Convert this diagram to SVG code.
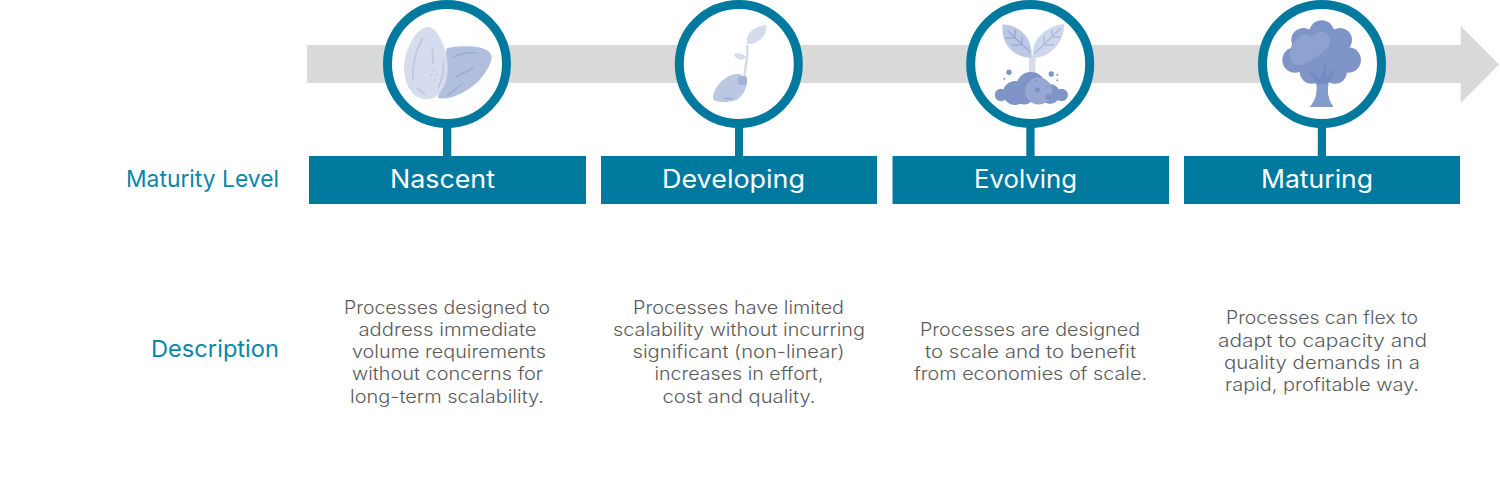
<svg xmlns="http://www.w3.org/2000/svg" width="1500" height="502" viewBox="0 0 1500 502">
<style>
.ring{fill:#fff;stroke:#00799f;stroke-width:9}
.stem,.box{fill:#00799f}
.title{font:400 25px Inter,"Noto Sans",sans-serif;fill:#fff;text-anchor:middle}
.side{font:400 23px Inter,"Noto Sans",sans-serif;fill:#0a86a8;text-anchor:end}
.desc{font:300 18px Inter,"Noto Sans",sans-serif;fill:#5a5a5a;text-anchor:middle}
.l{fill:#d5dcee}.m{fill:#b1bedd}.d{fill:#7f95c8}
.ls{fill:none;stroke:#bcc7e2;stroke-width:1.6;stroke-linecap:round}
.ms{fill:none;stroke:#9cacd5;stroke-width:1.6;stroke-linecap:round}
</style>
<rect width="1500" height="502" fill="#fff"/>
<g id="timeline"><path d="M307 45H1460.700V26L1499 64.500L1460.700 103V83H307Z" fill="#d9d9d9"/></g>
<g id="connectors">
<rect class="stem" x="443" y="120" width="8.300" height="37"/>
<rect class="stem" x="735" y="120" width="8" height="37"/>
<rect class="stem" x="1026.300" y="120" width="8.300" height="37"/>
<rect class="stem" x="1317.800" y="120" width="8.200" height="37"/>
</g>
<g id="side-labels">
<text class="side" x="279" y="187" textLength="153" lengthAdjust="spacingAndGlyphs">Maturity Level</text>
<text class="side" x="279" y="357" textLength="128" lengthAdjust="spacingAndGlyphs">Description</text>
</g>
<g id="nascent">
<circle class="ring" cx="447" cy="64" r="59.500"/>
<path class="m" d="M446.700 48.300C456 46 476 45 484 49C490 51 492 55 491.700 58.300C490 68 480 82 470 88C460 95 448 100 438 98Z"/>
<path class="ms" d="M453 57C462 53 470 52 477 53M456 77L473 68M448 95L463 83"/>
<path class="l" d="M428 27C436 27 444 42 447 58C450 78 443 98 428 99C412 100 404 85 404 66C405 48 417 27 428 27Z"/>
<path class="ls" d="M422.700 38C416 50 412 65 413 80M417 88L425 94M432.300 48L433 63M438 88C442 80 444 70 443 62"/>
<g fill="#bcc7e2"><circle cx="434" cy="71" r="1"/><circle cx="431" cy="75" r="1"/><circle cx="435" cy="80" r="1"/><circle cx="437" cy="74" r="1"/></g>
<rect class="box" x="309" y="156" width="277" height="48"/>
<text class="title" x="442.500" y="187.500" textLength="105" lengthAdjust="spacingAndGlyphs">Nascent</text>
<g class="desc">
<text x="447" y="313.500" textLength="206" lengthAdjust="spacingAndGlyphs">Processes designed to</text>
<text x="447.500" y="335.500" textLength="178" lengthAdjust="spacingAndGlyphs">address immediate</text>
<text x="449" y="358" textLength="194" lengthAdjust="spacingAndGlyphs">volume requirements</text>
<text x="447.500" y="380" textLength="191" lengthAdjust="spacingAndGlyphs">without concerns for</text>
<text x="447" y="402.500" textLength="194" lengthAdjust="spacingAndGlyphs">long-term scalability.</text>
</g>
</g>
<g id="developing">
<circle class="ring" cx="738.800" cy="64" r="59.500"/>
<path d="M745 78C743 70 749 62 747 45" fill="none" stroke="#d5dcee" stroke-width="2.500"/>
<path class="l" d="M747 44C745 35 752 27 766 25C768 34 760 44 747 44Z"/>
<path class="l" d="M734 54C738 52 744 54 746 57C743 61 736 61 734 54Z"/>
<path d="M713 98C713 88 724 76 735 74C741 73 747 78 747 83C746 90 742 97 736 100C728 103 713 103 713 98Z" fill="#bcc7e2"/>
<rect x="738" y="76" width="9" height="9" rx="2.500" fill="#a3b2d6"/>
<path d="M724 98.500H733" stroke="#97a8d2" stroke-width="1.500"/>
<rect class="box" x="601" y="156" width="276" height="48"/>
<text class="title" x="733.500" y="187.500" textLength="143" lengthAdjust="spacingAndGlyphs">Developing</text>
<g class="desc">
<text x="738.500" y="313.500" textLength="211" lengthAdjust="spacingAndGlyphs">Processes have limited</text>
<text x="739" y="335.500" textLength="252" lengthAdjust="spacingAndGlyphs">scalability without incurring</text>
<text x="738.500" y="358" textLength="212" lengthAdjust="spacingAndGlyphs">significant (non-linear)</text>
<text x="739" y="380" textLength="169" lengthAdjust="spacingAndGlyphs">increases in effort,</text>
<text x="739" y="402.500" textLength="153" lengthAdjust="spacingAndGlyphs">cost and quality.</text>
</g>
</g>
<g id="evolving">
<circle class="ring" cx="1030.200" cy="64" r="59.500"/>
<rect class="l" x="1029" y="56" width="6.500" height="19"/>
<path d="M1002.700 24.300C1018 25 1033 36 1031.700 57.700C1016 58 1000 46 1002.700 24.300Z" fill="#bcc8e4"/>
<path d="M1064 24C1065 40 1052 58 1033 57.700C1030 40 1046 26 1064 24Z" fill="#ced7ec"/>
<path class="ms" d="M1008 31L1030 52M1015 38V30M1015 38H1006M1022 45V37M1022 45H1012"/>
<path class="ms" stroke-opacity=".65" d="M1060 29L1035 53M1052 37V30M1052 37H1060M1044 45V37M1044 45H1053"/>
<g class="d"><circle cx="1001" cy="95" r="6.200"/><circle cx="1061.700" cy="95" r="6.200"/><circle cx="1015" cy="93" r="12"/><circle cx="1050" cy="94" r="10"/><circle cx="1031" cy="87" r="15"/><circle cx="1024" cy="94" r="10.500"/><circle cx="1009" cy="72.300" r="2.700"/><circle cx="1051.300" cy="74" r="2.700"/><circle cx="1004.300" cy="78.700" r="1"/><circle cx="1057.300" cy="75" r="1"/><circle cx="1057.300" cy="80.300" r="1"/></g>
<circle cx="1038.500" cy="91" r="13.500" fill="#96a7d2"/>
<g fill="#7a90c4"><circle cx="1037.300" cy="90" r="2.600"/><circle cx="1048.300" cy="96.700" r="2.600"/><circle cx="1046.700" cy="86.700" r="1"/><circle cx="1035.700" cy="81" r=".9"/></g>
<rect class="box" x="892.500" y="156" width="276.500" height="48"/>
<text class="title" x="1025.500" y="187.500" textLength="103" lengthAdjust="spacingAndGlyphs">Evolving</text>
<g class="desc">
<text x="1030" y="335.500" textLength="220" lengthAdjust="spacingAndGlyphs">Processes are designed</text>
<text x="1030.500" y="358" textLength="211" lengthAdjust="spacingAndGlyphs">to scale and to benefit</text>
<text x="1030.500" y="380" textLength="233" lengthAdjust="spacingAndGlyphs">from economies of scale.</text>
</g>
</g>
<g id="maturing">
<circle class="ring" cx="1322" cy="64" r="59.500"/>
<g class="d"><circle cx="1321.700" cy="32.500" r="12.300"/><circle cx="1303.300" cy="40" r="12"/><circle cx="1340" cy="40" r="12"/><circle cx="1295" cy="60" r="12.700"/><circle cx="1348.300" cy="60" r="12.700"/><circle cx="1311.700" cy="71.700" r="12"/><circle cx="1335" cy="71.700" r="12"/><circle cx="1321.700" cy="53.300" r="27"/></g>
<path d="M1290 58C1289 49 1292 43 1296 40C1300 35 1307 33 1312 37C1316 31 1325 30 1328 35C1332 40 1330 46 1325 50C1318 56 1312 60 1306 63C1300 67 1291 66 1290 58Z" fill="#8ea1cf"/>
<path d="M1310 106.700C1316 100 1318 92 1317 85L1309 72L1312 70L1320 79L1324.500 63.500H1326.500L1326 79L1332 70L1334.500 72.500L1328 84C1327 92 1328 100 1333.300 106.700Z" fill="#758cc3"/>
<path d="M1310 106.700C1316 100 1317 94 1316.500 84H1328.500C1327 93 1328 100 1333.300 106.700Z" fill="#869bcd"/>
<rect class="box" x="1184" y="156" width="276" height="48"/>
<text class="title" x="1317" y="187.500" textLength="112" lengthAdjust="spacingAndGlyphs">Maturing</text>
<g class="desc">
<text x="1322" y="324" textLength="192" lengthAdjust="spacingAndGlyphs">Processes can flex to</text>
<text x="1322.500" y="346.500" textLength="209" lengthAdjust="spacingAndGlyphs">adapt to capacity and</text>
<text x="1322" y="369" textLength="196" lengthAdjust="spacingAndGlyphs">quality demands in a</text>
<text x="1322" y="391" textLength="194" lengthAdjust="spacingAndGlyphs">rapid, profitable way.</text>
</g>
</g>
</svg>
